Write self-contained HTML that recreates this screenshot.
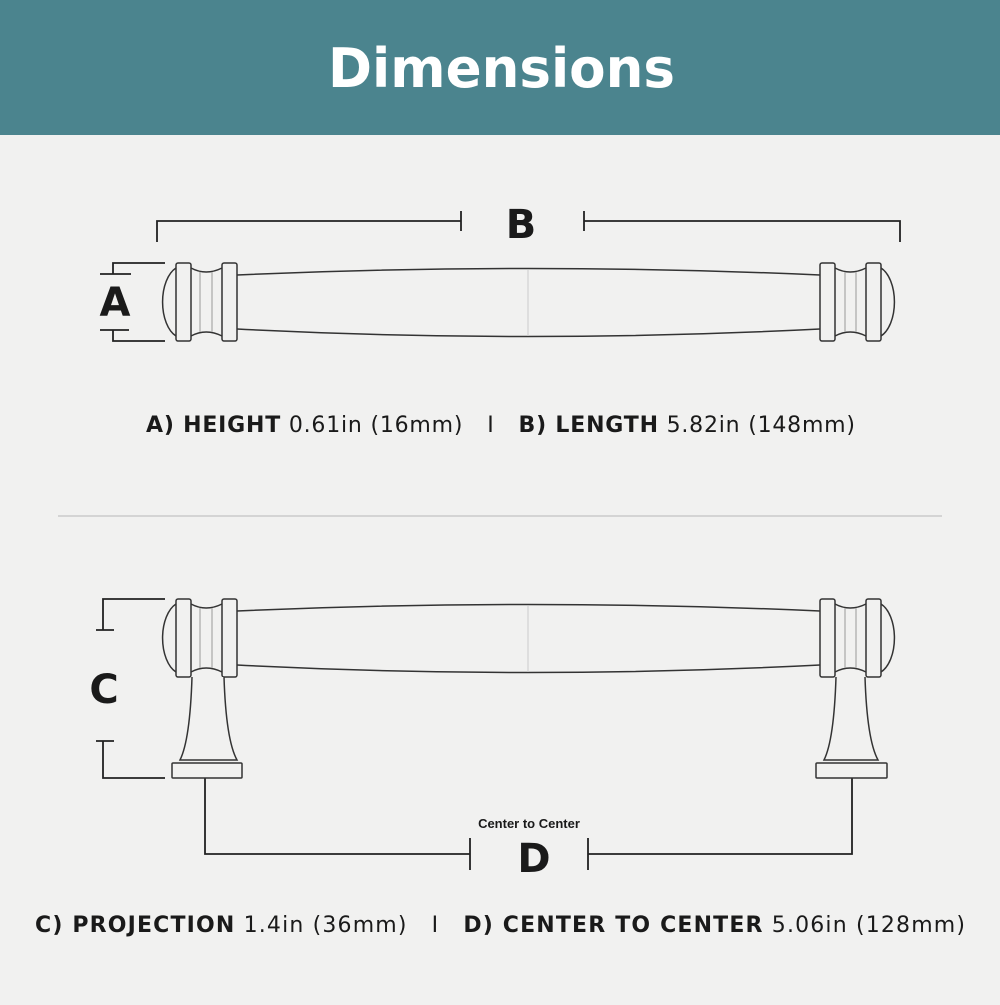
<!DOCTYPE html>
<html><head><meta charset="utf-8"><style>
body{margin:0;width:1000px;height:1000px;background:#f1f1f0;overflow:hidden;font-family:"Liberation Sans",sans-serif}
</style></head><body>
<svg width="1000" height="1000" viewBox="0 0 1000 1000" xmlns="http://www.w3.org/2000/svg">
<rect x="0" y="0" width="1000" height="1000" fill="#f1f1f0"/>
<rect x="0" y="0" width="1000" height="135" fill="#4b848e"/>
<text x="328" y="87" textLength="347" lengthAdjust="spacingAndGlyphs" font-size="54" font-weight="bold" fill="#fff" font-family="DejaVu Sans,sans-serif">Dimensions</text>

<defs>
<g id="pull" fill="none" stroke="#333" stroke-width="1.5">
  <path d="M176,268 A20,36 0 0 0 176,336"/>
  <rect x="176" y="263" width="15" height="78" rx="2" fill="#f1f1f0"/>
  <path d="M191,268 Q206,276 222,268 M191,336 Q206,328 222,336"/>
  <line x1="200" y1="272" x2="200" y2="332" stroke="#999" stroke-width="1"/>
  <line x1="212" y1="272" x2="212" y2="332" stroke="#999" stroke-width="1"/>
  <rect x="222" y="263" width="15" height="78" rx="2" fill="#f1f1f0"/>
  <path d="M237,275 Q528,262 820,275"/>
  <path d="M237,329 Q528,344 820,329"/>
  <line x1="528" y1="270" x2="528" y2="336" stroke="#ccc" stroke-width="1"/>
  <rect x="820" y="263" width="15" height="78" rx="2" fill="#f1f1f0"/>
  <path d="M835,268 Q850,276 866,268 M835,336 Q850,328 866,336"/>
  <line x1="845" y1="272" x2="845" y2="332" stroke="#999" stroke-width="1"/>
  <line x1="856" y1="272" x2="856" y2="332" stroke="#999" stroke-width="1"/>
  <rect x="866" y="263" width="15" height="78" rx="2" fill="#f1f1f0"/>
  <path d="M881,268 A20,36 0 0 1 881,336"/>
</g>
</defs>

<use href="#pull"/>
<use href="#pull" transform="translate(0,336)"/>

<g fill="none" stroke="#222" stroke-width="1.8">
  <path d="M165,263 H113 V274 M100,274 H131"/>
  <path d="M100,330 H129 M113,330 V341 H165"/>
  <path d="M157,242 V221 H461 M461,211 V231"/>
  <path d="M584,211 V231 M584,221 H900 V242"/>
  <path d="M165,599 H103 V630 M96,630 H114"/>
  <path d="M96,741 H114 M103,741 V778 H165"/>
  <path d="M205,778 V854 H470 M470,838 V870"/>
  <path d="M588,838 V870 M588,854 H852 V778"/>
</g>

<g fill="#f1f1f0" stroke="#333" stroke-width="1.5">
  <path d="M192,677 Q190,740 180,760 L237,760 Q226,740 224,677"/>
  <rect x="172" y="763" width="70" height="15" rx="1"/>
  <path d="M836,677 Q834,740 824,760 L878,760 Q867,740 865,677"/>
  <rect x="816" y="763" width="71" height="15" rx="1"/>
</g>

<g font-family="DejaVu Sans,sans-serif" font-weight="bold" fill="#1a1a1a">
  <text x="115" y="316" text-anchor="middle" font-size="40">A</text>
  <text x="521" y="238" text-anchor="middle" font-size="40">B</text>
  <text x="104" y="703" text-anchor="middle" font-size="40">C</text>
  <text x="534" y="872" text-anchor="middle" font-size="40">D</text>
  <text x="529" y="828" text-anchor="middle" font-size="13" font-family="Liberation Sans,sans-serif">Center to Center</text>
</g>

<g font-family="DejaVu Sans,sans-serif" font-size="22" fill="#1a1a1a">
  <text x="146" y="432" textLength="709" lengthAdjust="spacing"><tspan font-weight="bold">A) HEIGHT</tspan> 0.61in (16mm)<tspan dx="24">I</tspan><tspan dx="24" font-weight="bold">B) LENGTH</tspan> 5.82in (148mm)</text>
  <text x="35" y="932" textLength="930" lengthAdjust="spacing"><tspan font-weight="bold">C) PROJECTION</tspan> 1.4in (36mm)<tspan dx="24">I</tspan><tspan dx="24" font-weight="bold">D) CENTER TO CENTER</tspan> 5.06in (128mm)</text>
</g>
<line x1="58" y1="516" x2="942" y2="516" stroke="#c4c4c4" stroke-width="1.2"/>
</svg>
</body></html>
